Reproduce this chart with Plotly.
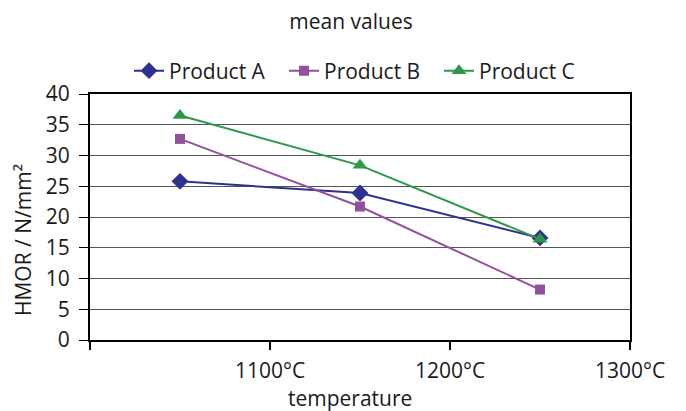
import plotly.graph_objects as go

# Mean HMOR values per test temperature
temperatures = [1050, 1150, 1250]
product_a = [25.8, 23.9, 16.6]
product_b = [32.7, 21.7, 8.2]
product_c = [36.5, 28.4, 16.4]

series_names = ["Product A", "Product B", "Product C"]
x_tick_vals = [1000, 1100, 1200, 1300]
x_tick_text = ["", "1100°C", "1200°C", "1300°C"]

FONT = "Open Sans"
FS = 21
W, H = 686, 411
L, R, T, B = 90, 56, 94, 71
PW, PH = W - L - R, H - T - B

colors = ["#2d318f", "#93519d", "#2a9a48"]
symbols = ["diamond", "square", "triangle-up"]
sizes = [13, 10, 13]


def px_to_paper(px, py):
    """Convert pixel position in the page to plot-area paper coordinates."""
    return (px - L) / PW, (H - B - py) / PH


fig = go.Figure()
for name, vals, col, sym, sz in zip(series_names, [product_a, product_b, product_c], colors, symbols, sizes):
    fig.add_trace(go.Scatter(
        x=temperatures, y=vals, name=name, mode="lines+markers",
        line=dict(color=col, width=2),
        marker=dict(symbol=sym, size=sz, color=col),
    ))

fig.update_layout(
    width=W, height=H,
    margin=dict(l=L, r=R, t=T, b=B, autoexpand=False),
    paper_bgcolor="white", plot_bgcolor="white",
    font=dict(family=FONT, size=FS, color="#1a1a1a"),
    title=dict(text="mean values", x=351 / W, xref="container", xanchor="center",
               y=1 - 22 / H, yref="container", yanchor="middle",
               font=dict(family=FONT, size=FS, color="#1a1a1a")),
    legend=dict(orientation="h", x=129 / W, xref="container", xanchor="left",
                y=1 - 71 / H, yref="container", yanchor="middle",
                font=dict(family=FONT, size=FS), itemwidth=30,
                entrywidth=110, entrywidthmode="pixels",
                bgcolor="rgba(0,0,0,0)"),
    showlegend=True,
)

fig.update_xaxes(
    range=[1000, 1300], tickvals=x_tick_vals, ticktext=x_tick_text,
    showgrid=False, zeroline=False,
    showline=True, linecolor="black", linewidth=2, mirror=True,
    ticks="outside", ticklen=8, tickwidth=2, tickcolor="black",
    ticklabelstandoff=3,
    tickfont=dict(family=FONT, size=FS),
)
fig.update_yaxes(
    range=[0, 40], dtick=5, tick0=0,
    showgrid=True, gridcolor="#555555", gridwidth=1, zeroline=False,
    showline=True, linecolor="black", linewidth=2, mirror=True,
    ticks="outside", ticklen=9, tickwidth=1, tickcolor="black",
    ticklabelstandoff=5,
    tickfont=dict(family=FONT, size=FS),
)

# Axis titles
ax, ay = px_to_paper(23, 240)
fig.add_annotation(text="HMOR / N/mm²", textangle=-90, x=ax, y=ay,
                   xref="paper", yref="paper", showarrow=False,
                   xanchor="center", yanchor="middle",
                   font=dict(family=FONT, size=FS))
tx, ty = px_to_paper(350, 398)
fig.add_annotation(text="temperature", x=tx, y=ty,
                   xref="paper", yref="paper", showarrow=False,
                   xanchor="center", yanchor="middle",
                   font=dict(family=FONT, size=FS))

fig.write_html("out.html")
